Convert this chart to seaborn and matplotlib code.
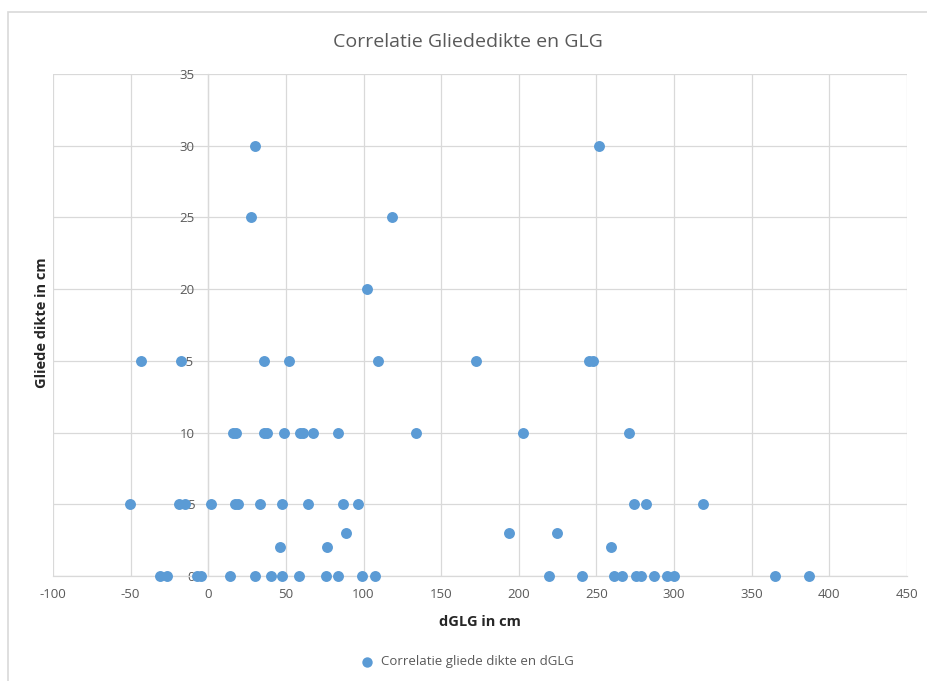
import matplotlib
matplotlib.use("Agg")
import matplotlib.pyplot as plt
import seaborn as sns
import pandas as pd
from matplotlib.patches import Rectangle

# ---- data ----
dglg_cm = [
    # y = 0
    -31.3, -26.6, -7.1, -4.5, 14.3, 30.1, 40.1, 47.4, 58.6, 75.9, 83.5, 99.3, 107.5,
    219.6, 240.7, 261.5, 266.2, 275.6, 278.6, 286.8, 295.4, 300.1, 364.9, 386.7,
    # y = 2
    46.5, 76.4, 259.3,
    # y = 3
    88.4, 193.5, 224.8,
    # y = 5
    -50.6, -19.1, -14.8, 1.5, 17.4, 19.1, 33.5, 47.4, 64.1, 86.9, 96.3, 273.9, 281.6, 318.7,
    # y = 10
    15.9, 17.6, 35.6, 37.8, 48.5, 59.2, 61.3, 67.4, 83.5, 133.8, 202.7, 270.7,
    # y = 15
    -43.1, -17.4, 35.6, 51.7, 109.6, 172.5, 245.4, 248.0,
    # y = 20
    102.2,
    # y = 25
    27.7, 118.4,
    # y = 30
    30.2, 251.9,
]
gliede_dikte_cm = (
    [0] * 24 + [2] * 3 + [3] * 3 + [5] * 14 + [10] * 12 + [15] * 8 + [20] * 1 + [25] * 2 + [30] * 2
)
x_ticks = [-100, -50, 0, 50, 100, 150, 200, 250, 300, 350, 400, 450]
y_ticks = [0, 5, 10, 15, 20, 25, 30, 35]

title = "Correlatie Gliededikte en GLG"
x_label = "dGLG in cm"
y_label = "Gliede dikte in cm"
series_name = "Correlatie gliede dikte en dGLG"

df = pd.DataFrame({"dGLG": dglg_cm, "dikte": gliede_dikte_cm})

sns.set_theme(style="white")
plt.rcParams["font.family"] = ["Open Sans", "DejaVu Sans"]
plt.rcParams["axes.unicode_minus"] = False

W, H = 928, 681
fig = plt.figure(figsize=(W / 100, H / 100), dpi=100)
ax = fig.add_axes([53 / W, 1 - 576 / H, (907 - 53) / W, (576 - 74) / H])

blue = "#5B9BD5"
txt = "#595959"
grid = "#D9D9D9"

sns.scatterplot(data=df, x="dGLG", y="dikte", ax=ax, color=blue, s=62,
                edgecolor=blue, linewidth=0, label=series_name, zorder=3, clip_on=False)

ax.set_xlim(-100, 450)
ax.set_ylim(0, 35)
ax.set_xticks(x_ticks)
ax.set_yticks(y_ticks)
ax.grid(True, color=grid, linewidth=0.9)
ax.set_axisbelow(True)

for s in ["top", "right"]:
    ax.spines[s].set_visible(False)
ax.spines["left"].set_position(("data", 0))
ax.spines["left"].set_color(grid)
ax.spines["left"].set_linewidth(0.9)
ax.spines["bottom"].set_color(grid)
ax.spines["bottom"].set_linewidth(0.9)

ax.tick_params(axis="both", length=0, labelsize=9.5, labelcolor=txt)
ax.tick_params(axis="y", pad=10)
ax.tick_params(axis="x", pad=9)

ax.set_xlabel(x_label, fontsize=10.5, fontweight="bold", color="#262626", labelpad=10)
ax.set_ylabel("")
fig.text(42 / W, 1 - 323 / H, y_label, rotation=90, ha="center", va="center",
         fontsize=10.5, fontweight="bold", color="#262626")

fig.text(468 / W, 1 - 42 / H, title, ha="center", va="center", fontsize=14, color=txt)

ax.legend(loc="center", bbox_to_anchor=(0.5, 1 - 662 / H), bbox_transform=fig.transFigure,
          frameon=False, fontsize=9.5, labelcolor=txt, handletextpad=0.1,
          markerscale=0.95)

fig.patches.append(Rectangle((7.5 / W, -0.01), 1, 1 - 12 / H + 0.01,
                             transform=fig.transFigure, fill=False,
                             edgecolor="#D9D9D9", linewidth=1.2, zorder=0))

fig.savefig("out.png", dpi=100, facecolor="white")
